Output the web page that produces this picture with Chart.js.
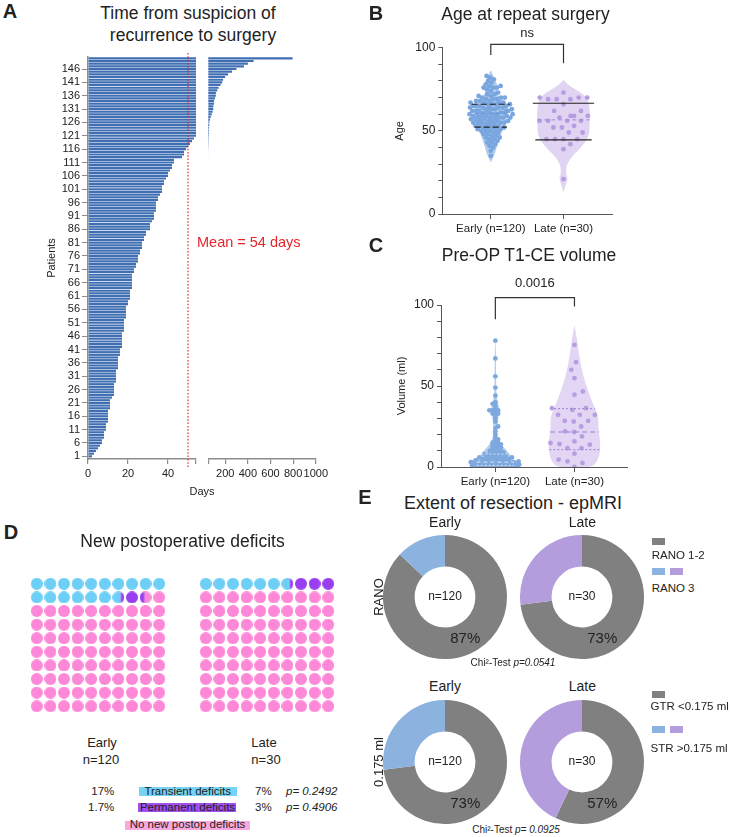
<!DOCTYPE html>
<html>
<head>
<meta charset="utf-8">
<script src="https://cdn.jsdelivr.net/npm/chart.js@4.4.1/dist/chart.umd.min.js"></script>
<style>
html,body{margin:0;padding:0;background:#fff;}
#root{position:relative;width:732px;height:837px;overflow:hidden;background:#fff;font-family:'Liberation Sans',Arial,sans-serif;color:#222;}
#root canvas{position:absolute;}
.t{position:absolute;white-space:nowrap;line-height:1;}
.bx{position:absolute;}
</style>
</head>
<body>
<div id="root"></div>
<script>
// ================= DATA =================
// Panel A: days from suspicion of recurrence to surgery, patients sorted 1..150
const patientDays = [
  2,3,4,5,6,7,7,8,8,8,9,9,9,10,10,10,10,10,11,11,
  11,11,12,13,13,13,13,13,14,14,14,14,14,15,15,15,15,15,16,16,
  16,17,17,17,17,17,17,18,18,18,18,18,19,19,19,19,19,20,20,21,
  21,21,21,22,22,22,22,22,22,23,23,24,24,25,25,25,26,26,27,27,
  27,28,28,29,29,31,31,31,32,33,33,33,34,34,34,34,35,35,36,37,
  37,37,38,38,39,40,40,41,42,42,43,43,47,48,48,49,50,51,52,53,
  54,55,56,57,59,59,65,71,80,88,94,94,100,100,109,117,117,129,141,159,
  173,181,199,225,260,299,365,400,450,795
];
const meanDays = 54;
const meanLineDays = 50;
const daysLeftRange = [0, 54];
const daysRightRange = [50, 1000];
const daysLeftTicks = [0, 20, 40];
const daysRightTicks = [200, 400, 600, 800, 1000];

// Panels B & C
const groupLabels = ['Early (n=120)', 'Late (n=30)'];
const ageEarly = [
  35,38,40,41,42,43,43,44,45,45,46,46,47,47,48,48,49,49,50,50,
  50,51,51,51,52,52,52,52,53,53,53,54,54,54,55,55,55,55,56,56,
  56,56,57,57,57,57,58,58,58,58,59,59,59,59,59,60,60,60,60,60,
  61,61,61,61,61,62,62,62,62,62,63,63,63,63,64,64,64,64,65,65,
  65,65,66,66,66,66,67,67,67,67,68,68,68,69,69,69,70,70,70,71,
  71,72,72,73,74,75,76,76,76,77,77,78,79,80,81,82,83,64,58,55
];
const ageLate = [73,70,70,70,69,69,69,66,62,62,59,59,58,59,56,56,56,56,52,52,53,49,49,45,45,45,45,42,39,21];
const ageEarlyViolinY = [31, 35.6, 40.6, 46.6, 52.6, 58, 62.6, 66, 68.6, 72.6, 75.6, 78.6, 82, 86.6];
const ageEarlyViolinW = [0, 0.05, 0.085, 0.13, 0.18, 0.22, 0.23, 0.21, 0.17, 0.08, 0.1, 0.08, 0.045, 0];
const ageLateViolinY = [13, 17.6, 21.2, 24.6, 29.6, 34.6, 40.6, 46.6, 54.6, 62.6, 69.6, 73.6, 77.6, 80.6];
const ageLateViolinW = [0, 0.03, 0.055, 0.037, 0.05, 0.12, 0.25, 0.34, 0.36, 0.36, 0.32, 0.21, 0.07, 0];
const ageQuartEarly = [52.2, 60.5, 66];
const ageQuartLate = [44.6, 56.6, 66.6];
const ageBracket = [95.6, 102, 90.6];
const ageP = 'ns';

const volEarly = [
  78,67,56,49,44,40,39,38,36,35,35,35,34,33,33,32,30,28,25,24,
  22,20,18,17,16,15,15,14,14,13,13,12,12,11,11,10,10,10,9,9,
  9,8,8,8,8,7,7,7,7,6,6,6,6,6,5,5,5,5,5,4.5,
  4,4,4,4,4,3.5,3.5,3,3,3,3,3,2.5,2.5,2.5,2.5,2,2,2,2,
  2,2,2,1.8,1.5,1.5,1.5,1.5,1.2,1.2,1,1,1,1,1,0.9,0.8,0.8,0.8,0.7,
  0.6,0.6,0.5,0.5,0.5,0.4,0.4,0.3,0.3,0.3,0.2,0.2,0.2,0.1,0.1,0.1,0.1,0,0,0
];
const volLate = [75.4,64.7,60,54.8,46.6,44.6,35.3,36.3,36.3,32.2,32.2,32.2,28.5,28.5,28.1,25,22,21.6,18.9,15.8,13.8,14.8,14.2,11.7,11.7,4.5,3.5,8.2,2.5,0];
const volEarlyViolinY = [0, 1.4, 4.5, 9.7, 14.8, 19, 23, 27, 31, 35.3, 39, 45, 55, 65, 72, 80];
const volEarlyViolinW = [0.2, 0.25, 0.23, 0.15, 0.065, 0.03, 0.022, 0.03, 0.04, 0.055, 0.035, 0.015, 0.01, 0.008, 0.006, 0];
const volLateViolinY = [0, 1.4, 6.6, 14.8, 23, 31.2, 39.4, 47.6, 57.9, 68.2, 78.4, 87.7];
const volLateViolinW = [0.18, 0.25, 0.31, 0.325, 0.305, 0.295, 0.232, 0.169, 0.105, 0.063, 0.034, 0];
const volQuartEarly = [1, 3, 8];
const volQuartLate = [10.7, 21.6, 36];
const volBracket = [91.2, 104.5, 99];
const volP = '0.0016';

// Panel D
const deficitGroups = ['Early', 'Late'];
const deficitN = ['n=120', 'n=30'];
const transientPct = [16.7, 6.7];
const permanentPct = [1.7, 3.3];
const transientLabels = ['17%', '7%'];
const permanentLabels = ['1.7%', '3%'];
const transientP = 'p= 0.2492';
const permanentP = 'p= 0.4906';

// Panel E
const eorGroups = ['Early', 'Late'];
const eorN = ['n=120', 'n=30'];
const ranoLabels = ['RANO 1-2', 'RANO 3'];
const ranoEarly = [87, 13];
const ranoLate = [73, 27];
const gtrLabels = ['GTR <0.175 ml', 'STR >0.175 ml'];
const gtrEarly = [73, 27];
const gtrLate = [57, 43];
const chiRano = 'p=0.0541';
const chiGtr = 'p= 0.0925';

// ================= HELPERS =================
const FONT = "'Liberation Sans', Arial, sans-serif";
Chart.defaults.font.family = FONT;
Chart.defaults.color = '#222';
Chart.defaults.animation = false;
Chart.defaults.responsive = false;
Chart.defaults.devicePixelRatio = 1;
Chart.defaults.plugins.legend.display = false;
Chart.defaults.plugins.tooltip.enabled = false;
Chart.defaults.events = [];

const root = document.getElementById('root');
function cv(left, top, w, h) {
  const c = document.createElement('canvas');
  c.width = Math.round(w); c.height = Math.round(h);
  c.style.left = left + 'px'; c.style.top = top + 'px';
  c.style.width = Math.round(w) + 'px'; c.style.height = Math.round(h) + 'px';
  root.appendChild(c); return c;
}
function tx(text, x, y, size, o = {}) {
  const d = document.createElement('div'); d.className = 't';
  if (o.html) d.innerHTML = text; else d.textContent = text;
  d.style.left = x + 'px'; d.style.top = y + 'px'; d.style.fontSize = size + 'px';
  if (o.bold) d.style.fontWeight = 'bold';
  if (o.italic) d.style.fontStyle = 'italic';
  if (o.color) d.style.color = o.color;
  const ax = o.align === 'left' ? '0' : o.align === 'right' ? '-100%' : '-50%';
  d.style.transform = 'translate(' + ax + ',-50%)' + (o.rot ? ' rotate(-90deg)' : '');
  root.appendChild(d);
}
function bx(x, y, w, h, color) {
  const d = document.createElement('div'); d.className = 'bx';
  d.style.left = x + 'px'; d.style.top = y + 'px'; d.style.width = w + 'px'; d.style.height = h + 'px'; d.style.background = color;
  root.appendChild(d);
}

// ================= PANEL A =================
const axisGrey = '#8c8c8c';
const patientIds = patientDays.map((_, i) => i + 1);
const patientTicks = patientIds.filter(p => p % 5 === 1 && p <= 146);
const barsA = patientDays.map((d, i) => ({x: d, y: patientIds[i]}));

function daysChart(canvas, range, ticks, withY, pad, extra) {
  const tickVals = [...new Set([range[0], ...ticks, range[1]])];
  return new Chart(canvas, {
    type: 'bar',
    data: {datasets: [...extra, {data: barsA, backgroundColor: '#3f6eb3', borderWidth: 0, barPercentage: 0.8, categoryPercentage: 1, clip: 0}]},
    options: {
      indexAxis: 'y',
      layout: {padding: pad},
      scales: {
        x: {type: 'linear', min: range[0], max: range[1],
            afterBuildTicks: s => { s.ticks = tickVals.map(v => ({value: v})); },
            ticks: {autoSkip: false, maxRotation: 0, font: {size: 11}, padding: 3, color: '#222',
                    callback: v => ticks.includes(v) ? String(v) : ''},
            grid: {drawOnChartArea: false, tickLength: 5, color: axisGrey, lineWidth: 1.2},
            border: {color: axisGrey, width: 1.5},
            afterFit: s => { s.height = 30; }},
        y: {type: 'linear', display: withY, min: 0, max: 150.5, offset: false,
            afterBuildTicks: s => { s.ticks = patientTicks.map(v => ({value: v})); },
            ticks: {autoSkip: false, font: {size: 11}, padding: 2, color: '#222'},
            grid: {drawOnChartArea: false, offset: false, tickLength: 6, color: axisGrey, lineWidth: 1},
            border: {color: axisGrey, width: 1.5},
            title: {display: withY, text: 'Patients', font: {size: 11}, padding: 0, color: '#222'},
            afterFit: s => { s.width = withY ? 43 : 0; }}
      }
    }
  });
}
daysChart(cv(0, 47, 200, 442), daysLeftRange, daysLeftTicks, true, {left: 45, top: 10, right: 4, bottom: 0}, [
  {type: 'line', data: [{x: meanLineDays, y: -3}, {x: meanLineDays, y: 152.5}], borderColor: '#e3262b', borderWidth: 1.2,
   borderDash: [1.5, 1.8], pointRadius: 0, clip: false, fill: false}
]);
daysChart(cv(200, 47, 131, 442), daysRightRange, daysRightTicks, false, {left: 8.3, top: 10, right: 14.3, bottom: 0}, []);

tx('A', 10, 11, 20, {bold: true});
tx('Time from suspicion of', 188, 14, 17.5);
tx('recurrence to surgery', 193, 36, 17.5);
tx('Mean = ' + meanDays + ' days', 197, 242, 14.5, {align: 'left', color: '#e3262b'});
tx('Days', 202, 491, 11);

// ================= PANELS B & C =================
function swarm(yPx, dia, cap) {
  const order = yPx.map((_, i) => i).sort((a, b) => yPx[b] - yPx[a]);
  const placed = [], out = new Array(yPx.length);
  let flip = 1, over = 0;
  for (const i of order) {
    const y = yPx[i], ivs = [];
    for (const p of placed) {
      const dy = Math.abs(p.y - y);
      if (dy < dia) { const dx = Math.sqrt(dia * dia - dy * dy); ivs.push([p.x - dx, p.x + dx]); }
    }
    const cands = [0]; for (const [a, b] of ivs) cands.push(a, b);
    const ok = c => ivs.every(([a, b]) => c <= a + 1e-6 || c >= b - 1e-6);
    let best = null;
    for (const c of cands) {
      if (!ok(c)) continue;
      if (best === null || Math.abs(c) < Math.abs(best) - 1e-6 ||
          (Math.abs(Math.abs(c) - Math.abs(best)) < 1e-6 && Math.sign(c) === flip)) best = c;
    }
    if (Math.abs(best) > cap) { over++; best = (((over * 0.618034) % 1) * 2 - 1) * cap; }
    if (best !== 0) flip = -Math.sign(best);
    out[i] = best; placed.push({x: best, y});
  }
  return out;
}
function halfW(ys, ws, y) {
  if (y <= ys[0]) return ws[0];
  for (let i = 1; i < ys.length; i++) if (y <= ys[i]) { const t = (y - ys[i - 1]) / (ys[i] - ys[i - 1]); return ws[i - 1] + t * (ws[i] - ws[i - 1]); }
  return ws[ws.length - 1];
}
function outline(c, ys, ws) {
  const pts = ys.map((y, i) => ({x: c - ws[i], y}));
  for (let i = ys.length - 1; i >= 0; i--) pts.push({x: c + ws[i], y: ys[i]});
  return pts;
}
const bracketLabel = {id: 'bracketLabel', afterDatasetsDraw(chart, args, o) {
  const g = chart.ctx; g.save();
  g.font = o.size + 'px ' + FONT; g.fillStyle = '#222'; g.textAlign = 'center'; g.textBaseline = 'middle';
  g.fillText(o.text, chart.scales.x.getPixelForValue(1.5), chart.scales.y.getPixelForValue(o.y) - o.gap);
  g.restore();
}};

function violinPanel(p) {
  const ds = [];
  ds.push({type: 'line', data: [{x: 1, y: p.bracket[0]}, {x: 1, y: p.bracket[1]}, {x: 2, y: p.bracket[1]}, {x: 2, y: p.bracket[2]}],
           borderColor: '#333', borderWidth: 1.2, pointRadius: 0, clip: false, showLine: true, fill: false, tension: 0});
  [[1, p.qE, p.yE, p.wE, p.qStyleE], [2, p.qL, p.yL, p.wL, p.qStyleL]].forEach(([c, qs, ys, ws, st]) => {
    qs.forEach((q, k) => {
      const w = halfW(ys, ws, q) * st[k].scale;
      ds.push({type: 'line', data: [{x: c - w, y: q}, {x: c + w, y: q}], borderColor: st[k].color, borderWidth: st[k].width,
               borderDash: st[k].dash, pointRadius: 0, showLine: true, fill: false});
    });
  });
  const iE = ds.length;
  ds.push({type: 'scatter', data: p.vE.map(v => ({x: 1, y: v})), pointRadius: 2.4, backgroundColor: p.ptE, borderWidth: 0});
  const iL = ds.length;
  ds.push({type: 'scatter', data: p.vL.map(v => ({x: 2, y: v})), pointRadius: 2.4, backgroundColor: p.ptL, borderWidth: 0});
  ds.push({type: 'line', data: outline(2, p.yL, p.wL), fill: 'shape', backgroundColor: p.fillL, borderColor: 'rgba(0,0,0,0)', borderWidth: 0, pointRadius: 0, tension: 0.35, showLine: true});
  ds.push({type: 'line', data: outline(1, p.yE, p.wE), fill: 'shape', backgroundColor: p.fillE, borderColor: 'rgba(0,0,0,0)', borderWidth: 0, pointRadius: 0, tension: 0.35, showLine: true});

  const chart = new Chart(cv(p.left, p.top, p.w, p.h), {
    type: 'scatter',
    data: {datasets: ds},
    options: {
      layout: {padding: p.pad},
      plugins: {bracketLabel: {text: p.pText, y: p.bracket[1], gap: p.pGap, size: 13}},
      scales: {
        x: {type: 'linear', min: p.xr[0], max: p.xr[1],
            afterBuildTicks: s => { s.ticks = [1, 2].map(v => ({value: v})); },
            ticks: {autoSkip: false, maxRotation: 0, font: {size: 11.5}, padding: 3, color: '#222', callback: v => groupLabels[v - 1]},
            grid: {drawOnChartArea: false, tickLength: 5, color: '#555'},
            border: {color: '#555', width: 1},
            afterFit: s => { s.height = 25; }},
        y: {type: 'linear', min: 0, max: 100,
            ticks: {stepSize: 10, autoSkip: false, font: {size: 12}, padding: 3, color: '#222', callback: v => v % 50 === 0 ? String(v) : ''},
            grid: {drawOnChartArea: false, tickLength: 4, color: '#555'},
            border: {color: '#555', width: 1},
            title: {display: true, text: p.yTitle, font: {size: 11}, padding: 0, color: '#222'},
            afterFit: s => { s.width = p.yW; }}
      }
    },
    plugins: [bracketLabel]
  });
  // beeswarm placement computed through the chart's own scales
  const xs = chart.scales.x, ysc = chart.scales.y;
  const pxPerX = Math.abs(xs.getPixelForValue(2) - xs.getPixelForValue(1));
  [[iE, p.vE, 1, p.swE], [iL, p.vL, 2, p.swL]].forEach(([idx, vals, c, sw]) => {
    const offs = swarm(vals.map(v => ysc.getPixelForValue(v)), sw[0], sw[1]);
    chart.data.datasets[idx].data = vals.map((v, i) => ({x: c + offs[i] / pxPerX, y: v}));
  });
  chart.update('none');
}

const blk = (d) => ({color: '#222', width: 1.2, dash: d, scale: 1.25});
violinPanel({
  left: 380, top: 20, w: 237, h: 219, pad: {left: 13.4, top: 27.7, right: 5, bottom: 0}, yW: 48.9, xr: [0.333, 2.667],
  yTitle: 'Age', pText: ageP, pGap: 11, bracket: ageBracket,
  vE: ageEarly, vL: ageLate, yE: ageEarlyViolinY, wE: ageEarlyViolinW, yL: ageLateViolinY, wL: ageLateViolinW,
  qE: ageQuartEarly, qL: ageQuartLate,
  qStyleE: [blk([6, 3]), {color: '#6d98d6', width: 1, dash: [4, 3], scale: 1}, blk([6, 3])],
  qStyleL: [blk([]), {color: '#a688d8', width: 1, dash: [4, 3], scale: 1}, blk([])],
  ptE: '#79a6de', ptL: '#b69ce0', fillE: '#b4cdee', fillL: '#e1d4f3',
  swE: [4.0, 22], swL: [8.5, 30]
});
violinPanel({
  left: 380, top: 270, w: 252, h: 222, pad: {left: 15.1, top: 35, right: 5, bottom: 0}, yW: 45.9, xr: [0.313, 2.664],
  yTitle: 'Volume (ml)', pText: volP, pGap: 14.7, bracket: volBracket,
  vE: volEarly, vL: volLate, yE: volEarlyViolinY, wE: volEarlyViolinW, yL: volLateViolinY, wL: volLateViolinW,
  qE: volQuartEarly, qL: volQuartLate,
  qStyleE: [{color: '#d6e4f6', width: 1, dash: [2, 2], scale: 1}, {color: '#d6e4f6', width: 1, dash: [4, 3], scale: 1}, {color: '#d6e4f6', width: 1, dash: [2, 2], scale: 1}],
  qStyleL: [{color: '#9b7fd4', width: 1, dash: [2, 2], scale: 1}, {color: '#9b7fd4', width: 1, dash: [5, 3], scale: 1}, {color: '#9b7fd4', width: 1, dash: [2, 2], scale: 1}],
  ptE: '#7ea9df', ptL: '#b89ee0', fillE: '#b6cfee', fillL: '#e3d6f4',
  swE: [3.2, 25], swL: [9, 28]
});
tx('B', 376, 13, 20, {bold: true});
tx('Age at repeat surgery', 525.5, 15, 17.5);
tx('C', 376, 245, 20, {bold: true});
tx('Pre-OP T1-CE volume', 529, 256, 17.5);

// ================= PANEL D =================
const cTransient = '#6dcff6', cPermanent = '#9a3ff0', cNone = '#fd88d8';
function dotImage(k, T, P) {
  const c = document.createElement('canvas'); c.width = 12; c.height = 12;
  const g = c.getContext('2d');
  g.beginPath(); g.arc(6, 6, 6, 0, Math.PI * 2); g.closePath(); g.clip();
  [[0, T, cTransient], [T, T + P, cPermanent], [T + P, 100, cNone]].forEach(([a, b, col]) => {
    const s = Math.max(a, k), e = Math.min(b, k + 1);
    if (e > s) { g.fillStyle = col; g.fillRect((s - k) * 12, 0, (e - s) * 12, 12); }
  });
  return c;
}
function waffle(left, top, T, P) {
  const data = [], imgs = [];
  for (let k = 0; k < 100; k++) { data.push({x: k % 10, y: Math.floor(k / 10)}); imgs.push(dotImage(k, T, P)); }
  new Chart(cv(left, top, 150, 150), {
    type: 'scatter',
    data: {datasets: [{data, pointStyle: ctx => imgs[ctx.dataIndex], pointRadius: 6}]},
    options: {layout: {padding: 0},
      scales: {x: {display: false, min: -0.5, max: 9.5}, y: {display: false, min: -0.5, max: 9.5, reverse: true}}}
  });
}
waffle(22.5, 570.2, transientPct[0], permanentPct[0]);
waffle(191.5, 570.2, transientPct[1], permanentPct[1]);
tx('D', 11, 532, 20, {bold: true});
tx('New postoperative deficits', 182.5, 542, 17.5);
tx(deficitGroups[0], 102, 742, 13); tx(deficitN[0], 101, 759, 13);
tx(deficitGroups[1], 264, 742, 13); tx(deficitN[1], 266, 759, 13);
bx(139, 787, 98, 8.5, '#76d3f3');
bx(138.3, 803.3, 97.7, 8.5, '#a24ff0');
bx(125, 821, 125, 8.5, '#f9a9df');
tx(transientLabels[0], 114.3, 791.5, 11.5, {align: 'right'});
tx('Transient deficits', 187.7, 791.5, 11.5);
tx(transientLabels[1], 263.3, 791.5, 11.5);
tx(transientP, 286, 791.5, 11.5, {align: 'left', italic: true});
tx(permanentLabels[0], 114.3, 807.7, 11.5, {align: 'right'});
tx('Permanent deficits', 187.5, 807.7, 11.5);
tx(permanentLabels[1], 263.3, 807.7, 11.5);
tx(permanentP, 286, 807.7, 11.5, {align: 'left', italic: true});
tx('No new postop deficits', 187.5, 825, 11.5);

// ================= PANEL E =================
const cGrey = '#808080', cBlue = '#8cb2df', cPurple = '#b49ddd';
const ringLabels = {id: 'ringLabels', afterDraw(chart, args, o) {
  const arc = chart.getDatasetMeta(0).data[0];
  const {x, y, innerRadius, outerRadius} = arc.getProps(['x', 'y', 'innerRadius', 'outerRadius'], true);
  const g = chart.ctx; g.save(); g.fillStyle = '#222'; g.textAlign = 'center'; g.textBaseline = 'middle';
  g.font = '12px ' + FONT; g.fillText(o.center, x, y);
  const r = (innerRadius + outerRadius) / 2, a = o.angle * Math.PI / 180;
  g.font = '15px ' + FONT;
  g.fillText(chart.data.datasets[0].data[0] + '%', x + r * Math.sin(a), y - r * Math.cos(a));
  g.restore();
}};
function ring(left, top, labels, values, color2, center) {
  new Chart(cv(left, top, 124, 124), {
    type: 'doughnut',
    data: {labels, datasets: [{data: values, backgroundColor: [cGrey, color2], borderWidth: 0, hoverOffset: 0}]},
    options: {cutout: '49%', layout: {padding: 0}, plugins: {ringLabels: {center, angle: 154}}},
    plugins: [ringLabels]
  });
}
ring(383, 535, ranoLabels, ranoEarly, cBlue, eorN[0]);
ring(520.3, 535, ranoLabels, ranoLate, cPurple, eorN[1]);
ring(383, 700, gtrLabels, gtrEarly, cBlue, eorN[0]);
ring(520.3, 700, gtrLabels, gtrLate, cPurple, eorN[1]);
tx('E', 365, 497, 20, {bold: true});
tx('Extent of resection - epMRI', 513, 503, 18);
tx(eorGroups[0], 445, 522, 14); tx(eorGroups[1], 582.3, 522, 14);
tx(eorGroups[0], 445, 686, 14); tx(eorGroups[1], 582.3, 686, 14);
tx('RANO', 378, 597, 13, {rot: true});
tx('0.175 ml', 378, 762, 13, {rot: true});
tx('Chi²-Test <i>' + chiRano + '</i>', 513, 663, 10, {html: true});
tx('Chi²-Test <i>' + chiGtr + '</i>', 516, 829.5, 10, {html: true});
bx(651.7, 538, 13.3, 6.5, cGrey); tx(ranoLabels[0], 651.7, 556, 11.5, {align: 'left'});
bx(651.7, 568.3, 13.3, 6.5, cBlue); bx(670, 568.3, 13.3, 6.5, cPurple); tx(ranoLabels[1], 651.7, 589.3, 11.5, {align: 'left'});
bx(651.7, 691, 13.3, 6.5, cGrey); tx(gtrLabels[0], 650.5, 707.3, 11.5, {align: 'left'});
bx(651.7, 726.3, 13.3, 6.5, cBlue); bx(670, 726.3, 13.3, 6.5, cPurple); tx(gtrLabels[1], 650.5, 749.3, 11.5, {align: 'left'});
</script>
</body>
</html>
